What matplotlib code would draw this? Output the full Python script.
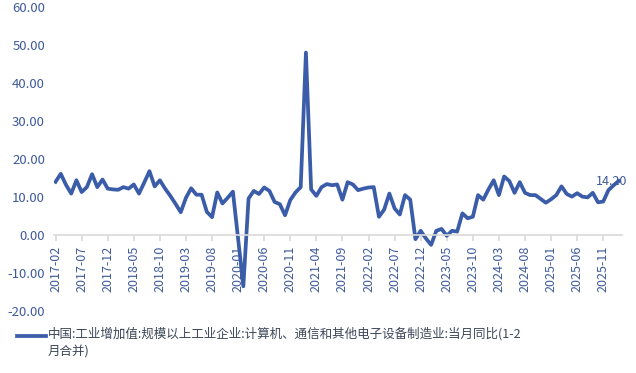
import matplotlib
matplotlib.use("Agg")
import matplotlib.pyplot as plt
import pandas as pd
from matplotlib.lines import Line2D

plt.rcParams['font.family'] = ['Noto Sans CJK SC', 'DejaVu Sans']

# 月份（2017-02 ~ 2026-02）
months = [p.strftime('%Y-%m') for p in pd.period_range('2017-02', '2026-02', freq='M')]

# 当月同比 (%)
values = [
    14.0, 16.1, 13.2, 10.9, 14.4, 11.3, 12.6, 16.0, 12.6, 14.6, 12.2,   # 2017
    12.0, 11.9, 12.6, 12.2, 13.3, 10.9, 13.8, 16.8, 12.8, 14.4, 12.2, 10.3,   # 2018
    8.2, 6.0, 9.8, 12.3, 10.6, 10.6, 6.1, 4.7, 11.2, 8.3, 9.8, 11.4,   # 2019
    -1.0, -13.5, 9.6, 11.6, 10.8, 12.5, 11.6, 8.7, 8.1, 5.2, 9.2, 11.2,   # 2020
    12.6, 48.0, 12.0, 10.3, 12.6, 13.4, 13.1, 13.3, 9.3, 13.9, 13.3, 11.8,   # 2021
    12.2, 12.5, 12.6, 4.8, 6.7, 10.9, 7.0, 5.4, 10.5, 9.3, -1.1, 1.1,   # 2022
    -0.9, -2.6, 1.1, 1.6, -0.2, 1.1, 0.9, 5.7, 4.4, 4.8, 10.5, 9.3,   # 2023
    12.0, 14.4, 10.5, 15.4, 14.2, 11.1, 13.9, 11.1, 10.5, 10.5, 9.5, 8.5,   # 2024
    9.4, 10.5, 12.8, 10.8, 10.1, 11.0, 10.1, 9.9, 11.1, 8.6, 8.8, 11.8,   # 2025
    13.1, 14.2,   # 2026
]

series_name = '中国:工业增加值:规模以上工业企业:计算机、通信和其他电子设备制造业:当月同比(1-2月合并)'

line_color = '#3b5ca8'
label_color = '#3d5a9a'

fig = plt.figure(figsize=(6.36, 3.73), dpi=100)
ax = fig.add_axes([54 / 636, 1 - 311 / 373, 568 / 636, 304 / 373])

# 先定位坐标轴（set_position 会重置刻度）
for side in ['top', 'right', 'left']:
    ax.spines[side].set_visible(False)
ax.spines['bottom'].set_position(('data', 0))
ax.spines['bottom'].set_color('#d9d9d9')
ax.spines['bottom'].set_linewidth(1.2)

x = list(range(len(months)))
ax.plot(x, values, color=line_color, lw=2.7, label=series_name)

# 最新值标注
ax.annotate('{:.2f}'.format(values[-1]), xy=(x[-1], values[-1]), xytext=(-5, 0),
            textcoords='offset points', ha='center', va='center',
            fontsize=9, color=label_color, annotation_clip=False)

ax.set_xlim(-0.3, 108.6)
ax.set_ylim(-20, 60)
yticks = list(range(-20, 61, 10))
ax.set_yticks(yticks)
ax.set_yticklabels(['{:.2f}'.format(v) for v in yticks])
ax.set_xticks(x[::5])
ax.set_xticklabels(months[::5])

ax.tick_params(axis='x', length=4, color='#d9d9d9', width=1.2, pad=4,
               labelsize=9, labelcolor=label_color, labelrotation=90)
ax.tick_params(axis='y', length=0, pad=6.5, labelsize=9.5, labelcolor=label_color)

# 图例（底部）
ly = 1 - 336 / 373
fig.add_artist(Line2D([17 / 636, 46 / 636], [ly, ly], transform=fig.transFigure,
                      color=line_color, lw=2.7))
name1, name2 = series_name[:-4], series_name[-4:]
fig.text(48 / 636, 1 - 327 / 373, name1 + '\n' + name2, va='top', ha='left',
         fontsize=9, color='#3c4658', linespacing=1.5)

fig.savefig('out.png', dpi=100)
